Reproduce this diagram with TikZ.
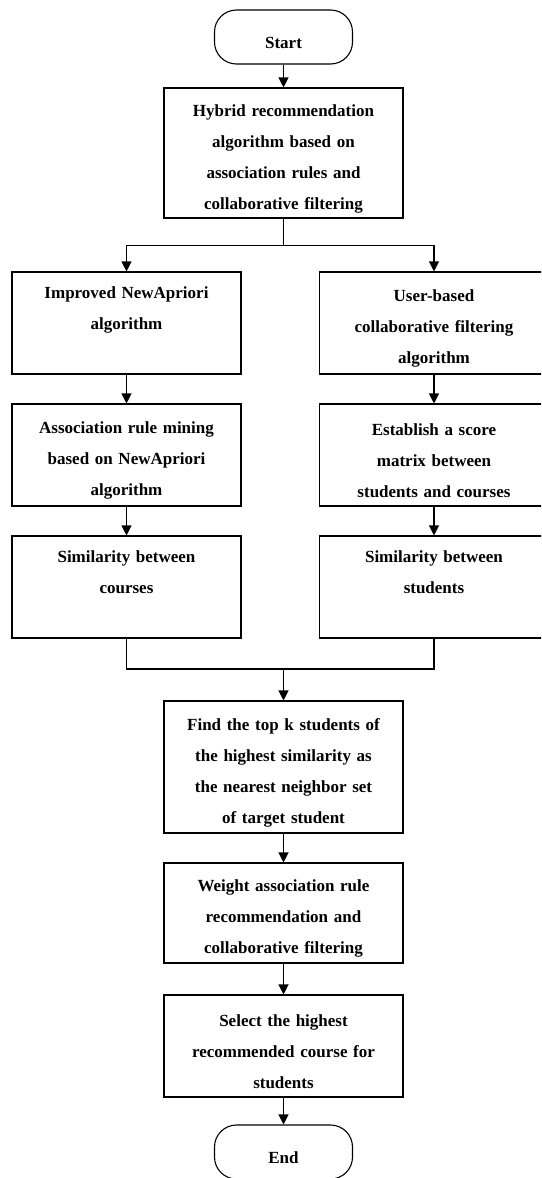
\documentclass[tikz,border=0pt]{standalone}
\usepackage{fontspec}
\setmainfont{Liberation Serif}
\usetikzlibrary{arrows.meta}

\tikzset{
    stepbox/.style={draw, line width=1.1pt, minimum width=239pt, text width=225pt,
        align=center, inner sep=0pt, font=\fontsize{17}{31}\selectfont\bfseries,
        execute at begin node={\rule{0pt}{23pt}}},
    sidebox/.style={stepbox, minimum width=229pt, minimum height=102pt},
    term/.style={draw, line width=1.1pt, rounded corners=22pt, minimum width=138pt,
        minimum height=54pt, inner sep=0pt, font=\fontsize{17}{31}\selectfont\bfseries,
        execute at begin node={\rule{0pt}{23pt}}},
    arrow/.style={line width=1.1pt, -{Triangle[width=10pt,length=10pt]}},
    link/.style={line width=1.1pt}
}

\begin{document}
\begin{tikzpicture}[x=1pt, y=-1pt]
    \clip (0,0) rectangle (541,1178);
    % start / end
    \node[term] (start) at (283.5,37) {Start};
    \node[term] (stop) at (283.5,1152) {End};
    \node[stepbox, minimum height=130pt] (hybrid) at (283.5,153)
        {Hybrid recommendation\\algorithm based on\\association rules and\\collaborative filtering};
    % left branch
    \node[sidebox] (impr) at (126.5,323) {Improved NewApriori\\algorithm\\\strut};
    \node[sidebox] (rule) at (126.5,455) {Association rule mining\\based on NewApriori\\algorithm};
    \node[sidebox] (simc) at (126.5,587) {Similarity between\\courses\\\strut};
    % right branch
    \node[sidebox] (user) at (434,323) {User-based\\collaborative filtering\\algorithm};
    \node[sidebox] (score) at (434,455) {Establish a score\\matrix between\\students and courses};
    \node[sidebox] (sims) at (434,587) {Similarity between\\students\\\strut};
    % merged steps
    \node[stepbox, minimum height=132pt] (find) at (283.5,767)
        {Find the top k students of\\the highest similarity as\\the nearest neighbor set\\of target student};
    \node[stepbox, minimum height=100pt] (weight) at (283.5,913)
        {Weight association rule\\recommendation and\\collaborative filtering};
    \node[stepbox, minimum height=102pt] (select) at (283.5,1046)
        {Select the highest\\recommended course for\\students};
    \coordinate (join) at (283.5,669);

    \draw[arrow] (start) -- (hybrid);
    \draw[arrow] (hybrid.south) -- ++(0,27) -| (impr.north);
    \draw[arrow] (hybrid.south) -- ++(0,27) -| (user.north);
    \draw[arrow] (impr) -- (rule);
    \draw[arrow] (rule) -- (simc);
    \draw[arrow] (user) -- (score);
    \draw[arrow] (score) -- (sims);
    \draw[link] (simc.south) |- (join) -| (sims.south);
    \draw[arrow] (join) -- (find);
    \draw[arrow] (find) -- (weight);
    \draw[arrow] (weight) -- (select);
    \draw[arrow] (select) -- (stop);
\end{tikzpicture}
\end{document}
